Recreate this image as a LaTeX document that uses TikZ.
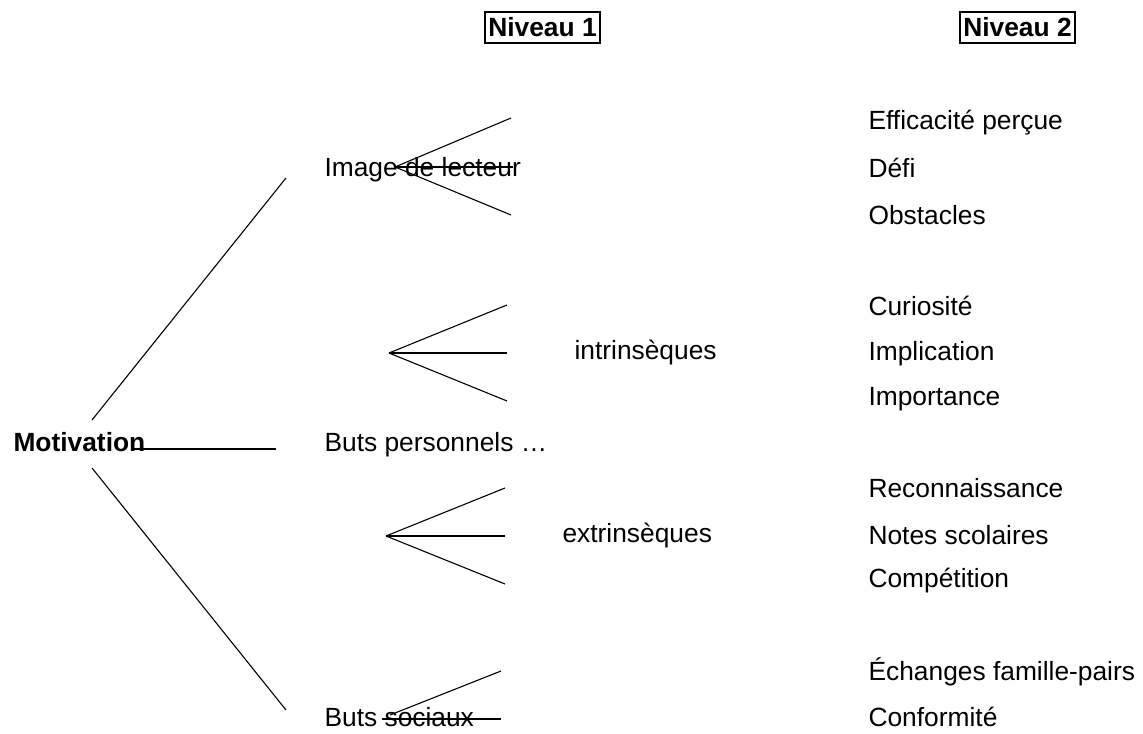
\documentclass[tikz,border=0pt]{standalone}
\usepackage{fontspec}
\setmainfont{Liberation Sans}
\begin{document}
\begin{tikzpicture}[x=0.016cm, y=-0.016cm, line width=0.5pt,
    every node/.style={font=\fontsize{12}{14}\selectfont, inner sep=0pt},
    lbl/.style={anchor=base west},
    niveau/.style={draw, line width=0.6pt, font=\fontsize{12}{14}\selectfont\bfseries,
        inner xsep=1.5pt, minimum height=0.496cm}]
			\useasboundingbox (0,0) rectangle (1143,734);
			
			\node[niveau] (niv1) at (542.5,27.5) {Niveau 1};
			\node[niveau] (niv2) at (1017.5,27.5) {Niveau 2};
			
			\node[lbl, font=\fontsize{12}{14}\selectfont\bfseries] (motiv) at (13,452) {Motivation};
			\node[lbl] (image) at (324,177) {Image de lecteur};
			\node[lbl] (perso) at (324,452) {Buts personnels …};
			\node[lbl] (soc) at (324,726) {Buts sociaux};
			\node[lbl] (intr) at (574,360) {intrinsèques};
			\node[lbl] (extr) at (562,543) {extrinsèques};
			
			\node[lbl] (effic) at (868,130) {Efficacité perçue};
			\node[lbl] (defi) at (868,178) {Défi};
			\node[lbl] (obst) at (868,225) {Obstacles};
			\node[lbl] (curio) at (868,316) {Curiosité};
			\node[lbl] (impl) at (868,361) {Implication};
			\node[lbl] (impo) at (868,406) {Importance};
			\node[lbl] (recon) at (868,498) {Reconnaissance};
			\node[lbl] (notes) at (868,544) {Notes scolaires};
			\node[lbl] (compet) at (868,588) {Compétition};
			\node[lbl] (echan) at (868,680) {Échanges famille-pairs};
			\node[lbl] (conf) at (868,726) {Conformité};
			
			% branches de Motivation
			\coordinate (m up) at (92,420);
			\coordinate (m mid) at (132,449);
			\coordinate (m dn) at (92,468);
			\coordinate (b up) at (286,178);
			\coordinate (b mid) at (276,449);
			\coordinate (b dn) at (286,710);
			\draw (m up) to (b up);
			\draw (m mid) to (b mid);
			\draw (m dn) to (b dn);
			
			% eventails
			\coordinate (img) at (395,167);
			\coordinate (int) at (389,353);
			\coordinate (ext) at (386,536);
			\coordinate (so) at (390,715);
			\coordinate (so h) at (382,719);
			
			\draw (img) to (511,118);
			\draw (img) to (513,167);
			\draw (img) to (511,215);
			
			\draw (int) to (507,305);
			\draw (int) to (507,353);
			\draw (int) to (507,401);
			
			\draw (ext) to (505,488);
			\draw (ext) to (505,536);
			\draw (ext) to (505,584);
			
			\draw (so) to (501,671);
			\draw (so h) to (501,719);
\end{tikzpicture}
\end{document}
